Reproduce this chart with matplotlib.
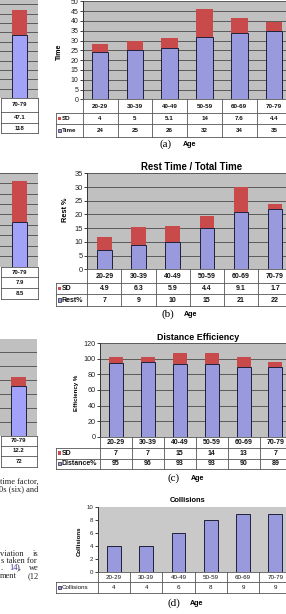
import matplotlib
matplotlib.use("Agg")
import matplotlib.pyplot as plt
import numpy as np
from matplotlib.patches import Rectangle
from matplotlib.ticker import MultipleLocator

W, H = 286, 614

# ---------------- data ----------------
ages = ["20-29", "30-39", "40-49", "50-59", "60-69", "70-79"]
time_mean = [24, 25, 26, 32, 34, 35]
time_sd = [4, 5, 5.1, 14, 7.6, 4.4]
rest_mean = [7, 9, 10, 15, 21, 22]
rest_sd = [4.9, 6.3, 5.9, 4.4, 9.1, 1.7]
dist_mean = [95, 96, 93, 93, 90, 89]
dist_sd = [7, 7, 15, 14, 13, 7]
collisions = [4, 4, 6, 8, 9, 9]

# neighbouring charts, only their last column is visible
left_cat = ["70-79"]
left_a_mean = [118]
left_a_sd = [47.1]
left_b_mean = [8.5]
left_b_sd = [7.9]
left_c_mean = [72]
left_c_sd = [12.2]

BLUE = "#9999DD"
BLUE_L = "#A2A2F8"
RED = "#C84A4A"
GRAY = "#C0C0C0"
GRAY_D = "#C9C9C9"
GRID = "#5A5A5A"
EDGE = "#20203A"
LINE = "#555555"
SANS = "Liberation Sans"
SERIF = "Liberation Serif"

fig = plt.figure(figsize=(W / 100, H / 100), dpi=100)


def add_ax(x0, y0, x1, y1):
    return fig.add_axes([x0 / W, 1 - y1 / H, (x1 - x0) / W, (y1 - y0) / H])


ov = add_ax(0, 0, W, H)
ov.set_xlim(0, W)
ov.set_ylim(H, 0)
ov.axis("off")
ov.set_zorder(10)
ov.patch.set_visible(False)


def chart(x0, top, bottom, x1, cats, means, sds, ymax, step, width, fs,
          grid=True, bg=GRAY, color=BLUE, show_ticks=True):
    ax = add_ax(x0, top, x1, bottom)
    x = np.arange(len(cats))
    ax.bar(x, means, width, color=color, edgecolor=EDGE, linewidth=0.7, zorder=2)
    if sds is not None:
        ax.bar(x, sds, width, bottom=means, color=RED, linewidth=0, zorder=2)
    ax.set_xlim(-0.5, len(cats) - 0.5)
    ax.set_ylim(0, ymax)
    ax.set_facecolor(bg)
    ax.set_axisbelow(True)
    ax.yaxis.set_major_locator(MultipleLocator(step))
    ax.set_xticks([])
    for s in ["top", "right", "bottom"]:
        ax.spines[s].set_visible(False)
    if grid:
        ax.yaxis.grid(True, color=GRID, linewidth=0.7)
    if show_ticks:
        ax.spines["left"].set_color("#333333")
        ax.spines["left"].set_linewidth(0.7)
        ax.tick_params(axis="y", length=2, width=0.6, pad=1, labelsize=fs,
                       colors="#222222")
        for t in ax.get_yticklabels():
            t.set_fontfamily(SANS)
    else:
        ax.spines["left"].set_visible(False)
        ax.tick_params(axis="y", left=False, labelleft=False)
    return ax


def table(x0, x1, legend_x, rows_y, cats, rows, fs, weight="bold"):
    n = len(cats)
    colw = (x1 - x0) / n
    lw = 0.6
    ov.plot([x0, x1], [rows_y[0], rows_y[0]], color=LINE, lw=lw)
    for y in rows_y[1:]:
        ov.plot([legend_x if legend_x is not None else x0, x1], [y, y], color=LINE, lw=lw)
    for i in range(n + 1):
        xx = x0 + i * colw
        ov.plot([xx, xx], [rows_y[0], rows_y[-1]], color=LINE, lw=lw)
    if legend_x is not None:
        ov.plot([legend_x, legend_x], [rows_y[1], rows_y[-1]], color=LINE, lw=lw)
    yc = (rows_y[0] + rows_y[1]) / 2
    for i, c in enumerate(cats):
        ov.text(x0 + (i + 0.5) * colw, yc, c, ha="center", va="center",
                fontsize=fs, fontfamily=SANS, fontweight=weight, color="#111111")
    for r, (label, vals, kcol, kedge) in enumerate(rows):
        ya, yb = rows_y[r + 1], rows_y[r + 2]
        yc = (ya + yb) / 2
        for i, v in enumerate(vals):
            ov.text(x0 + (i + 0.5) * colw, yc, f"{v:g}", ha="center", va="center",
                    fontsize=fs, fontfamily=SANS, fontweight=weight, color="#111111")
        if legend_x is not None:
            ov.add_patch(Rectangle((legend_x + 1.6, yc - 1.7), 3.4, 3.4,
                                   facecolor=kcol, edgecolor=kedge, lw=0.5))
            ov.text(legend_x + 5.6, yc, label, ha="left", va="center",
                    fontsize=fs, fontfamily=SANS, fontweight=weight, color="#111111")


# ---------------- (a) Time ----------------
chart(82.7, 1.3, 99.3, 291.5, ages, time_mean, time_sd, 50, 5, 0.48, 5.0)
table(82.7, 291.5, 56, [99.3, 112.7, 124.0, 136.7], ages,
      [("SD", time_sd, RED, "none"), ("Time", time_mean, BLUE, EDGE)], 4.5)
ov.text(59.3, 52, "Time", rotation=90, ha="center", va="center", fontsize=5.1,
        fontfamily=SANS, fontweight="bold")
ov.text(166, 144, "(a)", ha="center", va="center", fontsize=8, fontfamily=SERIF)
ov.text(190, 144, "Age", ha="center", va="center", fontsize=5.1, fontfamily=SANS,
        fontweight="bold")

# ---------------- (b) Rest % ----------------
chart(87.3, 173.3, 269.3, 292.0, ages, rest_mean, rest_sd, 35, 5, 0.42, 5.4)
table(87.3, 292.0, 56, [269.3, 282.7, 294.0, 306.0], ages,
      [("SD", rest_sd, RED, "none"), ("Rest%", rest_mean, BLUE, EDGE)], 5.0)
ov.text(191.2, 167.3, "Rest Time / Total Time", ha="center", va="center",
        fontsize=6.9, fontfamily=SANS, fontweight="bold")
ov.text(65.7, 209.3, "Rest %", rotation=90, ha="center", va="center", fontsize=5.3,
        fontfamily=SANS, fontweight="bold")
ov.text(167.5, 314, "(b)", ha="center", va="center", fontsize=8, fontfamily=SERIF)
ov.text(190.3, 314, "Age", ha="center", va="center", fontsize=5.1, fontfamily=SANS,
        fontweight="bold")

# ---------------- (c) Distance efficiency ----------------
chart(100, 343.3, 436.7, 291.4, ages, dist_mean, dist_sd, 120, 20, 0.44, 5.2)
table(100, 291.4, 56, [436.7, 447.7, 458.5, 468.5], ages,
      [("SD", dist_sd, RED, "none"), ("Distance%", dist_mean, BLUE, EDGE)], 5.0)
ov.text(197.7, 337.7, "Distance Efficiency", ha="center", va="center",
        fontsize=6.4, fontfamily=SANS, fontweight="bold")
ov.text(76.7, 393.3, "Efficiency %", rotation=90, ha="center", va="center",
        fontsize=4.4, fontfamily=SANS, fontweight="bold")
ov.text(174, 478.3, "(c)", ha="center", va="center", fontsize=8, fontfamily=SERIF)
ov.text(198, 478.3, "Age", ha="center", va="center", fontsize=5.1, fontfamily=SANS,
        fontweight="bold")

# ---------------- (d) Collisions ----------------
chart(97.7, 507.3, 572.3, 291.5, ages, collisions, None, 10, 2, 0.43, 4.4,
      grid=False, bg=GRAY_D)
table(97.7, 291.5, 56, [572.3, 582.3, 592.7], ages,
      [("Collisions", collisions, BLUE, EDGE)], 4.5, weight="normal")
ov.text(187.8, 501, "Collisions", ha="center", va="center", fontsize=5.4,
        fontfamily=SANS, fontweight="bold")
ov.text(79, 540.7, "Collisions", rotation=90, ha="center", va="center",
        fontsize=4.4, fontfamily=SANS, fontweight="bold")
ov.text(174, 603.3, "(d)", ha="center", va="center", fontsize=8, fontfamily=SERIF)
ov.text(196.3, 603.3, "Age", ha="center", va="center", fontsize=5.1, fontfamily=SANS,
        fontweight="bold")

# ---------------- partially visible neighbour charts ----------------
chart(0, 0, 98.3, 38.3, left_cat, left_a_mean, left_a_sd, 183, 17.5, 0.39, 4,
      color=BLUE_L, show_ticks=False)
table(1, 38.3, None, [98.3, 111.7, 122.7, 133.3], left_cat,
      [("", left_a_sd, RED, "none"), ("", left_a_mean, BLUE, EDGE)], 4.3)

chart(0, 172.7, 266.7, 38.3, left_cat, left_b_mean, left_b_sd, 18, 2, 0.39, 4,
      color=BLUE_L, show_ticks=False)
table(1, 38.3, None, [266.7, 277.3, 288.3, 299.3], left_cat,
      [("", left_b_sd, RED, "none"), ("", left_b_mean, BLUE, EDGE)], 4.3)

chart(0, 339.3, 435.7, 36.7, left_cat, left_c_mean, left_c_sd, 139, 20, 0.39, 4,
      color=BLUE_L, show_ticks=False)
table(1, 36.7, None, [436.0, 445.5, 456.0, 466.7], left_cat,
      [("", left_c_sd, RED, "none"), ("", left_c_mean, BLUE, EDGE)], 4.3)

# ---------------- fragments of body text ----------------
tk = dict(fontsize=6, fontfamily=SERIF, va="center", color="#222222")
ov.text(38.3, 482, "time factor,", ha="right", **tk)
ov.text(38.3, 489.5, "0s (six) and", ha="right", **tk)
ov.text(0, 553.5, "viation", ha="left", **tk)
ov.text(38.3, 553.5, "is", ha="right", **tk)
ov.text(1, 561, "s taken for", ha="left", **tk)
ov.text(0.5, 568.5, ".", ha="left", **tk)
ov.text(9.3, 568.5, "14", ha="left", **{**tk, "color": "#3A3AA0"})
ov.text(16.6, 568.5, "),", ha="left", **tk)
ov.text(38.3, 568.5, "we", ha="right", **tk)
ov.text(0, 576, "ment", ha="left", **tk)
ov.text(38.3, 576, "(12", ha="right", **tk)

fig.savefig("out.png", dpi=100)
